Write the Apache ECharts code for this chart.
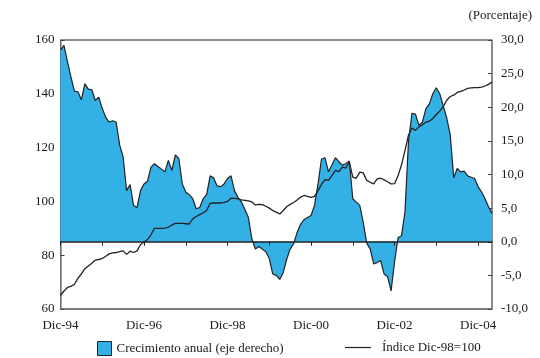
<!DOCTYPE html>
<html>
<head>
<meta charset="utf-8">
<script src="https://cdn.jsdelivr.net/npm/echarts@6/dist/echarts.min.js"></script>
<style>
html,body{margin:0;padding:0;background:#fff;}
#chart{width:540px;height:358px;}
</style>
</head>
<body>
<div id="chart"></div>
<script>
// Month abbreviations (Spanish) used to build the monthly categories Dic-94 .. Abr-05
const monthNames = ['Ene','Feb','Mar','Abr','May','Jun','Jul','Ago','Sep','Oct','Nov','Dic'];
const categories = ['Dic-94'];
for (let y = 95; y <= 105; y++) {
  for (let m = 0; m < 12; m++) {
    if (categories.length >= 125) break;
    categories.push(monthNames[m] + '-' + String(y % 100).padStart(2, '0'));
  }
}

// Crecimiento anual (eje derecho), %
const growth = [
  28.5, 29.2, 26.8, 24.5, 22.4, 22.3, 21.1, 23.5, 22.7, 22.6,
  21.0, 21.5, 19.8, 18.5, 17.8, 18.0, 17.8, 14.4, 12.6, 7.6,
  8.5, 5.4, 5.1, 7.6, 8.6, 9.0, 11.1, 11.6, 11.2, 10.8,
  10.4, 12.1, 10.6, 12.9, 12.4, 8.6, 7.4, 7.0, 6.4, 4.9,
  5.1, 6.4, 7.0, 9.8, 9.5, 8.3, 8.2, 8.6, 9.4, 9.8,
  7.6, 6.6, 5.9, 4.8, 3.6, 0.4, -1.1, -0.7, -1.1, -1.5,
  -2.5, -4.8, -5.0, -5.6, -4.6, -2.6, -1.1, -0.3, 1.4, 2.6,
  3.3, 3.6, 3.9, 5.4, 8.6, 12.3, 12.5, 10.4, 11.4, 12.5,
  11.9, 11.4, 11.6, 12.0, 6.4, 5.9, 5.4, 2.9, -0.2, -1.1,
  -3.3, -3.1, -2.8, -4.8, -5.2, -7.3, -3.0, 0.6, 0.9, 4.5,
  14.9, 19.1, 19.0, 17.3, 17.8, 19.8, 20.5, 22.0, 22.9, 22.0,
  20.2, 18.4, 15.9, 9.5, 10.9, 10.4, 10.5, 9.8, 9.6, 9.4,
  8.2, 7.4, 6.4, 5.2, 4.2
];

// Índice Dic-98=100 (eje izquierdo)
const indexValues = [
  65.1, 66.7, 68.0, 68.4, 69.2, 71.4, 73.0, 75.0, 76.0, 77.0,
  78.2, 78.4, 78.8, 79.6, 80.5, 80.9, 81.0, 81.3, 81.6, 80.3,
  81.5, 81.0, 81.6, 84.0, 84.8, 85.8, 87.6, 90.0, 90.0, 90.0,
  90.1, 90.4, 91.2, 91.8, 91.8, 91.8, 91.7, 91.6, 93.5, 94.4,
  95.1, 95.8, 96.6, 99.3, 99.4, 99.4, 99.4, 99.6, 100.0, 101.2,
  101.1, 100.9, 100.6, 100.4, 100.2, 99.8, 98.7, 98.9, 98.8, 98.2,
  97.5, 96.6, 96.0, 95.3, 96.6, 98.0, 98.9, 99.6, 100.5, 101.6,
  102.2, 101.9, 101.5, 101.9, 104.0, 106.3, 108.1, 107.8, 109.6, 111.5,
  111.1, 112.7, 112.4, 114.6, 109.0, 108.6, 110.9, 110.6, 107.8, 107.1,
  106.5, 108.4, 108.6, 108.0, 107.3, 106.5, 106.6, 109.5, 113.6, 119.0,
  124.6, 127.3, 126.4, 127.7, 128.5, 129.4, 129.8, 130.8, 132.3, 133.6,
  135.3, 137.6, 139.0, 139.5, 140.5, 140.9, 141.4, 142.0, 142.2, 142.3,
  142.3, 142.5, 142.9, 143.5, 144.4
];

const leftTicks = [60, 80, 100, 120, 140, 160];
const rightTicks = [-10, -5, 0, 5, 10, 15, 20, 25, 30];

const seriesNames = ['Crecimiento anual (eje derecho)', 'Índice Dic-98=100'];
const unitLabel = '(Porcentaje)';

const FONT = '"Liberation Serif", "DejaVu Serif", serif';
const TXT = '#1a1a1a';
const BLUE = '#33b0e6';

const chart = echarts.init(document.getElementById('chart'), null, {renderer: 'canvas'});
chart.setOption({
  animation: false,
  backgroundColor: '#fff',
  title: {
    text: unitLabel,
    right: 3, top: 4,
    textStyle: {fontFamily: FONT, fontSize: 13, fontWeight: 'normal', color: TXT}
  },
  grid: {
    left: 60.5, right: 48, top: 40, bottom: 49,
    show: true, borderColor: '#222', borderWidth: 1
  },
  legend: [
    {
      left: 97, top: 341, padding: 0,
      itemWidth: 14, itemHeight: 14,
      data: [{name: seriesNames[0], icon: 'rect', itemStyle: {color: BLUE, borderColor: '#222', borderWidth: 1}}],
      textStyle: {fontFamily: FONT, fontSize: 13, color: TXT}
    },
    {
      left: 345, top: 341, padding: 0,
      itemWidth: 26, itemHeight: 14,
      data: [{name: seriesNames[1], icon: 'path://M0,6.5 L26,6.5 L26,7.7 L0,7.7 Z', itemStyle: {color: '#222'}}],
      textStyle: {fontFamily: FONT, fontSize: 13, color: TXT, padding: [0, 0, 0, 6]}
    }
  ],
  xAxis: [
    {
      type: 'category',
      data: categories,
      boundaryGap: false,
      position: 'bottom',
      axisLine: {onZero: false, lineStyle: {color: '#777', width: 1.5}},
      axisTick: {show: false},
      axisLabel: {
        interval: (idx) => idx % 24 === 0,
        margin: 10,
        fontFamily: FONT, fontSize: 13, color: TXT
      },
      splitLine: {show: false}
    },
    {
      type: 'category',
      data: categories,
      boundaryGap: false,
      position: 'top',
      z: 3,
      axisLine: {onZero: true, onZeroAxisIndex: 1, lineStyle: {color: '#222', width: 1.5}},
      axisTick: {show: true, inside: true, length: 4, interval: (idx) => idx % 12 === 0, lineStyle: {color: '#222', width: 1}},
      axisLabel: {show: false},
      splitLine: {show: false}
    }
  ],
  yAxis: [
    {
      type: 'value',
      min: leftTicks[0], max: leftTicks[leftTicks.length - 1], interval: 20,
      position: 'left',
      axisLine: {show: true, lineStyle: {color: '#888', width: 1.5}},
      axisTick: {show: true, inside: true, length: 4, lineStyle: {color: '#444'}},
      axisLabel: {margin: 6, fontFamily: FONT, fontSize: 13, color: TXT},
      splitLine: {show: false}
    },
    {
      type: 'value',
      min: rightTicks[0], max: rightTicks[rightTicks.length - 1], interval: 5,
      position: 'right',
      axisLine: {show: true, lineStyle: {color: '#888', width: 1.5}},
      axisTick: {show: true, inside: true, length: 4, lineStyle: {color: '#444'}},
      axisLabel: {
        margin: 9, fontFamily: FONT, fontSize: 13, color: TXT,
        formatter: (v) => v.toFixed(1).replace('.', ',')
      },
      splitLine: {show: false}
    }
  ],
  series: [
    {
      name: seriesNames[0],
      type: 'line',
      xAxisIndex: 0, yAxisIndex: 1,
      data: growth,
      symbol: 'none',
      lineStyle: {color: '#222', width: 1.2},
      itemStyle: {color: BLUE},
      areaStyle: {color: BLUE, opacity: 1},
      z: 2
    },
    {
      name: seriesNames[1],
      type: 'line',
      xAxisIndex: 0, yAxisIndex: 0,
      data: indexValues,
      symbol: 'none',
      lineStyle: {color: '#222', width: 1.3},
      itemStyle: {color: '#222'},
      z: 4
    }
  ]
});
</script>
</body>
</html>
